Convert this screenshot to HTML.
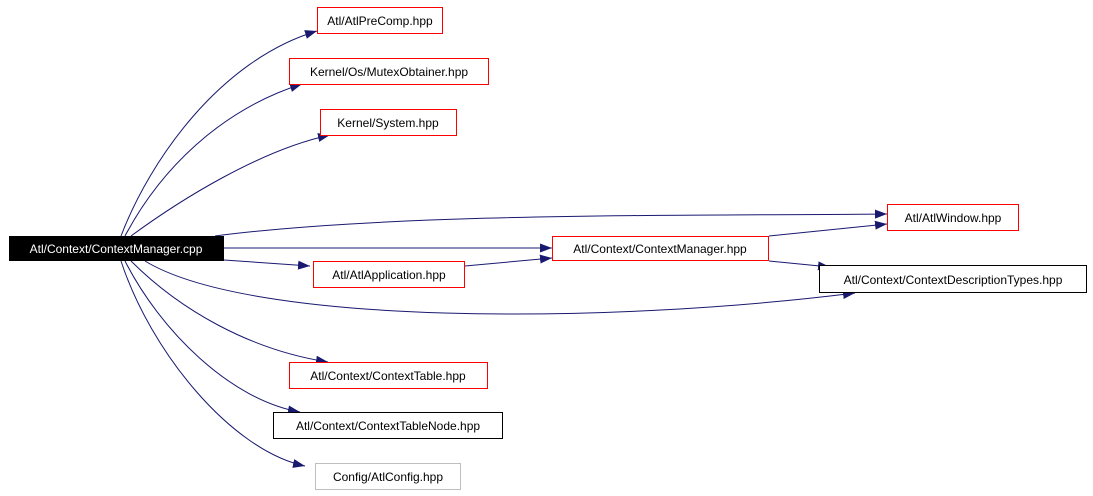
<!DOCTYPE html>
<html><head><meta charset="utf-8"><style>
html,body{margin:0;padding:0;background:#fff;}
svg{display:block;}
text{font-family:"Liberation Sans",Arial,sans-serif;font-size:12px;}
</style></head><body>
<svg width="1093" height="496" viewBox="0 0 1093 496" xmlns="http://www.w3.org/2000/svg">
<defs>
<marker id="a" viewBox="0 0 12 9" refX="12" refY="4.5" markerWidth="12" markerHeight="9" markerUnits="userSpaceOnUse" orient="auto">
<path d="M0,0 L12,4.5 L0,9 Z" fill="#191970"/>
</marker>
</defs>
<g fill="none" stroke="#191970" stroke-width="1" marker-end="url(#a)">
<path d="M121,236 C150,160 220,60 317,31"/>
<path d="M125,236 C160,170 220,110 302,84"/>
<path d="M131,236 C180,200 260,150 330,135"/>
<path d="M215,236 C400,212 700,216 887,214"/>
<path d="M224,248 L552,248"/>
<path d="M224,260 L310,266"/>
<path d="M465,266 L552,258"/>
<path d="M769,236 L887,224"/>
<path d="M769,261 L830,267"/>
<path d="M145,261 C250,325 600,325 855,293"/>
<path d="M131,261 C180,310 250,350 328,362"/>
<path d="M125,261 C160,330 230,400 300,412"/>
<path d="M121,261 C150,350 230,450 305,466"/>
</g>
<rect x="9.5" y="236.5" width="214" height="24" fill="#000" stroke="#000"/>
<text x="116" y="253" fill="#fff" text-anchor="middle">Atl/Context/ContextManager.cpp</text>
<g fill="#fff" stroke="#f00">
<rect x="317.5" y="7.5" width="125" height="26"/>
<rect x="289.5" y="58.5" width="199" height="26"/>
<rect x="320.5" y="109.5" width="136" height="26"/>
<rect x="887.5" y="204.5" width="131" height="26"/>
<rect x="552.5" y="236.5" width="216" height="24"/>
<rect x="313.5" y="261.5" width="151" height="26"/>
<rect x="289.5" y="362.5" width="198" height="26"/>
</g>
<rect x="819.5" y="265.5" width="267" height="27" fill="#fff" stroke="#000"/>
<rect x="273.5" y="412.5" width="229" height="26" fill="#fff" stroke="#000"/>
<rect x="315.5" y="463.5" width="145" height="26" fill="#fff" stroke="#bfbfbf"/>
<g fill="#000" text-anchor="middle">
<text x="380" y="25">Atl/AtlPreComp.hpp</text>
<text x="389" y="76">Kernel/Os/MutexObtainer.hpp</text>
<text x="388" y="127">Kernel/System.hpp</text>
<text x="953" y="222">Atl/AtlWindow.hpp</text>
<text x="660" y="253">Atl/Context/ContextManager.hpp</text>
<text x="389" y="279">Atl/AtlApplication.hpp</text>
<text x="953" y="284">Atl/Context/ContextDescriptionTypes.hpp</text>
<text x="388" y="380">Atl/Context/ContextTable.hpp</text>
<text x="388" y="430">Atl/Context/ContextTableNode.hpp</text>
<text x="388" y="481">Config/AtlConfig.hpp</text>
</g>
</svg>
</body></html>
